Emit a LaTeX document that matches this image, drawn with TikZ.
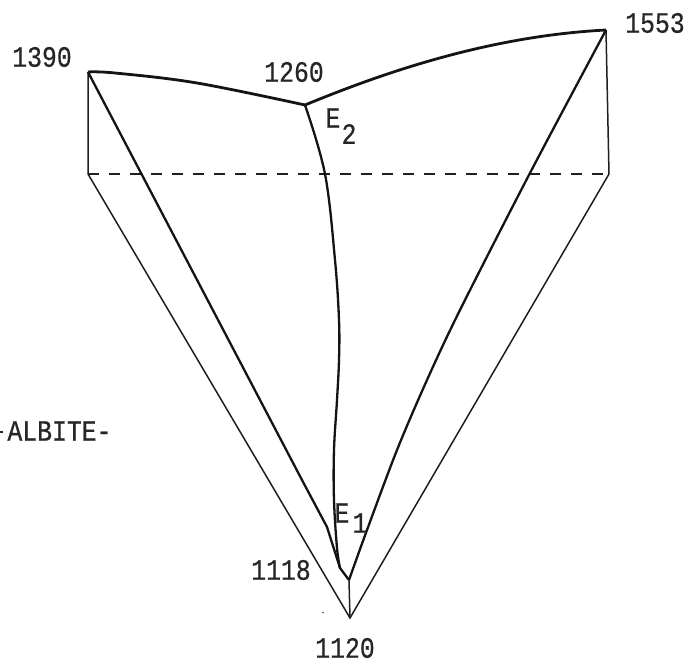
\documentclass[tikz,border=0pt]{standalone}
\usepackage{fontspec}
\setmainfont[FakeStretch=0.84,FakeBold=0.6]{Liberation Mono}
\tikzset{
 lab/.style={inner sep=0pt,font=\fontsize{29.5}{30}\selectfont,text=black!85},
 thin line/.style={line width=1.5pt,black!88},
 thick line/.style={line width=2.8pt,black!92,line join=round},
 mid line/.style={line width=2.3pt,black!92,line join=round},
}
\begin{document}
\begin{tikzpicture}[x=1pt,y=-1pt]
\useasboundingbox (0,0) rectangle (689,664);
\coordinate (A) at (88,72);
\coordinate (B) at (305,105);
\coordinate (C) at (606,30);
\coordinate (D) at (88,174);
\coordinate (F) at (609,174);
\coordinate (G) at (350,618);
\coordinate (K) at (340,568);
\coordinate (T) at (349,580);
\coordinate (M) at (337,548);
% base triangle
\draw[thin line] (A) -- (D) -- (G) -- (F) -- (C);
\draw[thin line] (T) -- (G);
\draw[thin line,dash pattern=on 11pt off 10pt] (D) -- (F);
% liquidus curves
\draw[thick line] plot[smooth,tension=0.6] coordinates {(A) (115,73) (197,83) (B)};
\draw[thick line] (B) .. controls (385,72) and (490,36) .. (C);
\draw[mid line] (A) -- (302,480) -- (327,527) -- (K) -- (T);
\draw[mid line] plot[smooth,tension=0.5] coordinates {(T) (367,530) (397,450) (427,380) (460,310) (530,173) (C)};
\draw[mid line] plot[smooth,tension=0.6] coordinates {(B) (325,174) (335,260) (339,320) (339,360) (337,400) (334,450) (334,500) (M) (K)};
% labels
\node[lab] (n1390) at (42,57) {1390};
\node[lab] (n1260) at (294,72) {1260};
\node[lab] (n1553) at (655,23) {1553};
\node[lab] (n1118) at (281,570) {1118};
\node[lab] (n1120) at (345,648) {1120};
\node[lab] (albite) at (59.5,431) {ALBITE-};
\draw[line width=2pt,black!85] (0,432) -- (2.5,432);
\node[lab] (e2) at (333,118) {E};
\node[lab] (e2s) at (349,134) {2};
\node[lab] (e1) at (342,513) {E};
\node[lab] (e1s) at (360,523) {1};
\fill[black!70] (323,612.5) circle (0.9pt);
\end{tikzpicture}
\end{document}
